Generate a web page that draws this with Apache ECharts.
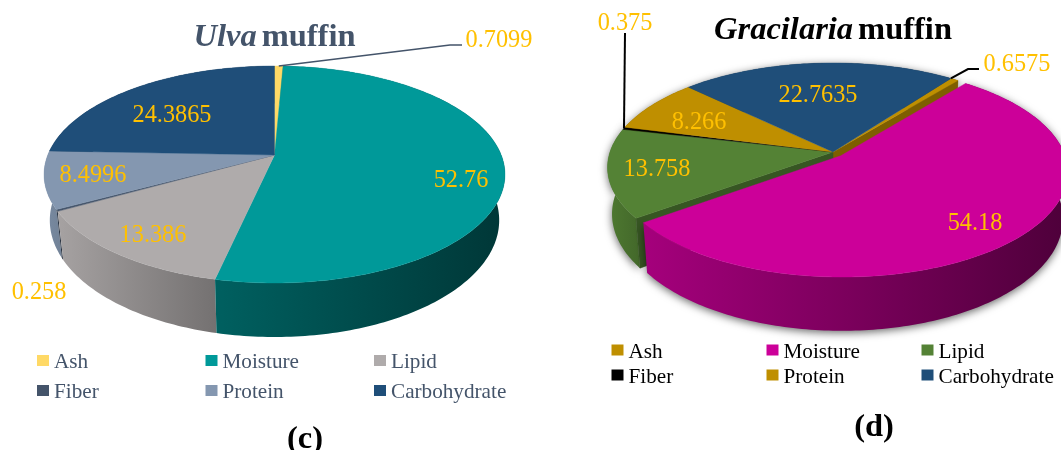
<!DOCTYPE html>
<html>
<head>
<meta charset="utf-8">
<style>html,body{margin:0;padding:0;background:#fff}#chart{width:1061px;height:450px}</style>
<script src="https://cdn.jsdelivr.net/npm/echarts@6/dist/echarts.min.js"></script>
</head>
<body>
<div id="chart"></div>
<script>
// Proximate composition of two muffin recipes, in percent.
const categories = ['Ash', 'Moisture', 'Lipid', 'Fiber', 'Protein', 'Carbohydrate'];
const ulvaValues = [0.7099, 52.76, 13.386, 0.258, 8.4996, 24.3865];
const gracilariaValues = [0.6575, 54.18, 13.758, 0.375, 8.266, 22.7635];
const ulvaColors = ['#ffd966', '#009999', '#afabab', '#44546a', '#8497b0', '#1f4e79'];
const gracilariaColors = ['#bf8f00', '#cc0099', '#548235', '#000000', '#bf8f00', '#1f4e79'];

const SERIF = '"Liberation Serif", "Times New Roman", serif';
const LABEL_COLOR = '#ffc000';

// Each pie: a disc seen in perspective, its top face and a downward wall.
const pies = [
  {
    key: 'ulva', values: ulvaValues, colors: ulvaColors,
    cx: 274.5, b: 155, a: 77.14, c: -0.1797, k: 226.7, depth: 44.3, shrink: 0.975, rotate: 0,
    explode: [0, 0, 0, 0, 0, 0],
    wallShades: [[.8, .6], [.63, .36], [.95, .66], [.7, .6], [.92, .86], [.6, .5]],
    labels: [[499, 40.5], [461, 181], [153, 235.5], [39, 293], [93, 175.5], [172, 115.5]],
    leaders: { 0: { at: 0.5, pts: [[450, 45], [462, 45]], color: '#44546a', width: 1.6 } },
    shadow: false
  },
  {
    key: 'gracilaria', values: gracilariaValues, colors: gracilariaColors,
    cx: 833, b: 152, a: 79.7, c: -0.148, k: 223, depth: 45.5, shrink: 0.98, rotate: 36.3,
    explode: [0, 0.05, 0, 0, 0, 0],
    wallShades: [[.66, .6], [.81, .38], [.93, .8], [.5, .5], [.66, .6], [.6, .5]],
    labels: [[1017, 65], [975, 223.5], [657, 169.5], [625, 24], [699, 122.5], [818, 95.5]],
    leaders: {
      0: { at: 0, pts: [[968, 69], [979, 69]], color: '#000', width: 2 },
      3: { at: 0.5, pts: [[625, 33]], color: '#000', width: 2 }
    },
    shadow: true
  }
];

function shade(hex, f) {
  const n = parseInt(hex.slice(1), 16);
  const ch = (s) => Math.round(((n >> s) & 255) * f);
  return `rgb(${ch(16)},${ch(8)},${ch(0)})`;
}

function project(p, u, v, lower) {
  const den = 1 + p.c * v;
  return [
    p.cx + p.k * u / den * (lower ? p.shrink : 1),
    (p.b + p.a * v) / den + (lower ? p.depth / den : 0)
  ];
}

function sliceElements(p, i) {
  const n = p.values.length;
  const before = p.values.slice(0, i).reduce((s, x) => s + x, 0);
  const total = p.values.reduce((s, x) => s + x, 0);
  const t0 = p.rotate + before / total * 360;
  const t1 = t0 + p.values[i] / total * 360;
  const rad = Math.PI / 180;
  const e = p.explode[i];
  const mid = (t0 + t1) / 2 * rad;
  const ou = e * Math.sin(mid), ov = -e * Math.cos(mid);
  const pt = (deg, r, lower) =>
    project(p, r * Math.sin(deg * rad) + ou, -r * Math.cos(deg * rad) + ov, lower);

  const upper = [], lowerArc = [];
  const steps = Math.max(2, Math.ceil(t1 - t0));
  let frontness = -1;
  for (let s = 0; s <= steps; s++) {
    const d = t0 + (t1 - t0) * s / steps;
    upper.push(pt(d, 1, false));
    lowerArc.push(pt(d, 1, true));
    frontness = Math.max(frontness, -Math.cos(d * rad));
  }
  const hub = pt(t0, 0, false), hubLow = pt(t0, 0, true);
  const color = p.colors[i];
  const lift = e > 0 ? 4 : 0;
  const [sa, sb] = p.wallShades[i];
  const out = [];

  const wallStyle = {
    fill: {
      type: 'linear', x: 0, y: 0, x2: 1, y2: 0,
      colorStops: [{ offset: 0, color: shade(color, sa) }, { offset: 1, color: shade(color, sb) }]
    }
  };
  if (p.shadow) {
    wallStyle.shadowBlur = 9;
    wallStyle.shadowColor = 'rgba(0,0,0,0.6)';
    wallStyle.shadowOffsetY = 2;
  }
  // Walls nearer the viewer paint over the ones behind them.
  out.push({
    type: 'polygon', z2: 1 + lift + (frontness + 1) / 4,
    shape: { points: upper.concat(lowerArc.slice().reverse()) },
    style: wallStyle
  });

  // A cut face only shows on the edge next to a slice pulled out of the disc.
  const dark = shade(color, 0.66);
  const cutFace = (k) => out.push({
    type: 'polygon', z2: 2 + lift,
    shape: { points: [hub, upper[k], lowerArc[k], hubLow] },
    style: { fill: dark, stroke: dark, lineWidth: 0.5 }
  });
  if (p.explode[(i + 1) % n] > 0) cutFace(upper.length - 1);
  if (p.explode[(i + n - 1) % n] > 0) cutFace(0);

  out.push({
    type: 'polygon', z2: 3 + lift,
    shape: { points: [hub].concat(upper) },
    style: { fill: color, stroke: color, lineWidth: 0.4 }
  });

  const lead = p.leaders[i];
  if (lead) {
    const from = pt(t0 + (t1 - t0) * lead.at, 1, false);
    out.push({
      type: 'polyline', z2: 10,
      shape: { points: [from].concat(lead.pts) },
      style: { fill: null, stroke: lead.color, lineWidth: lead.width }
    });
  }

  out.push({
    type: 'text', z2: 20,
    style: {
      text: String(p.values[i]), x: p.labels[i][0], y: p.labels[i][1],
      fill: LABEL_COLOR, font: `24.3px ${SERIF}`, align: 'center', verticalAlign: 'middle'
    }
  });
  return out;
}

const series = [];
pies.forEach((p) => {
  categories.forEach((name, i) => {
    series.push({
      type: 'custom', name, coordinateSystem: 'none', silent: true, animation: false,
      itemStyle: { color: p.colors[i] },
      data: [[p.values[i]]],
      renderItem: () => ({ type: 'group', children: sliceElements(p, i) })
    });
  });
});

// Legend entries sit on a fixed 3 x 2 grid under each pie.
const legendGrids = [
  { colors: ulvaColors, text: '#44546a', xs: [37, 205.5, 374], ys: [352, 382] },
  { colors: gracilariaColors, text: '#000', xs: [611.5, 766.5, 921.5], ys: [341.5, 366.5] }
];
const legends = [];
legendGrids.forEach((g) => {
  categories.forEach((name, i) => {
    legends.push({
      left: g.xs[i % 3], top: g.ys[Math.floor(i / 3)],
      padding: 0, itemGap: 0, itemWidth: 12, itemHeight: 11, icon: 'rect', selectedMode: false,
      formatter: '{t|{name}}',
      textStyle: {
        rich: { t: { fontFamily: SERIF, fontSize: 21.2, color: g.text, padding: [4, 0, 0, 0] } }
      },
      data: [{ name, icon: 'rect', itemStyle: { color: g.colors[i] } }]
    });
  });
});

function heading(text, left, top, color) {
  return {
    text, left, top, textAlign: 'center', padding: 0,
    textStyle: {
      rich: {
        i: { fontFamily: SERIF, fontStyle: 'italic', fontWeight: 'bold', fontSize: 32.5, color },
        b: { fontFamily: SERIF, fontWeight: 'bold', fontSize: 32.5, color }
      }
    }
  };
}

const chart = echarts.init(document.getElementById('chart'), null, { renderer: 'canvas' });
chart.setOption({
  animation: false,
  backgroundColor: '#ffffff',
  title: [
    heading('{i|Ulva} {b|muffin}', 274.5, 21, '#44546a'),
    heading('{i|Gracilaria} {b|muffin}', 833, 14, '#000000'),
    heading('{b|(c)}', 305, 423, '#000000'),
    heading('{b|(d)}', 874, 411, '#000000')
  ],
  legend: legends,
  series
});
</script>
</body>
</html>
